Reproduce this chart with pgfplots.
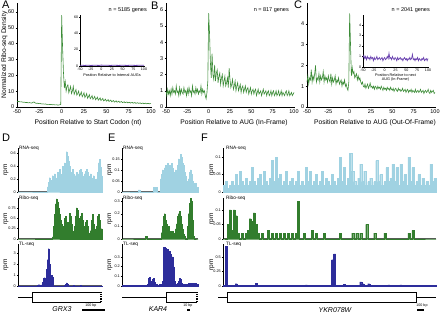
\documentclass[border=0pt]{standalone}
\usepackage{pgfplots}
\pgfplotsset{compat=1.18}
\usepackage{fontspec}
\setmainfont{Liberation Sans}
\definecolor{lgreen}{RGB}{60,140,55}
\definecolor{rgreen}{RGB}{50,125,45}
\definecolor{rblue}{RGB}{160,210,226}
\definecolor{tblue}{RGB}{45,45,155}
\definecolor{ipurple}{RGB}{105,65,175}
\definecolor{axgray}{RGB}{90,90,90}
\pgfplotsset{
  top/.style={scale only axis, anchor=south west, axis x line*=bottom, axis y line*=left,
    axis line style={-, line width=0.5pt}, xmin=-50, xmax=100, ymin=0,
    xtick={-50,-25,0,25,50,75,100}, xticklabels={-50,-25,0,25,50,75,100},
    tick align=outside, major tick length=1.5pt, tick style={black, line width=0.4pt},
    tick label style={font=\fontsize{5.5}{6}\selectfont, inner sep=1pt},
    clip=false, height=104pt},
  inset/.style={scale only axis, anchor=south west, axis x line*=bottom, axis y line*=left,
    axis line style={-, line width=0.4pt}, xmin=-50, xmax=100, ymin=0,
    xtick={-50,-25,0,25,50,75,100}, xticklabels={-50,-25,0,25,50,75,100},
    tick align=outside, major tick length=1pt, tick style={black, line width=0.3pt},
    tick label style={font=\fontsize{3.6}{4}\selectfont, inner sep=0.6pt},
    clip=false},
  bot/.style={scale only axis, anchor=south west, axis x line*=bottom, axis y line*=left,
    axis line style={-}, y axis line style={line width=0.4pt},
    x axis line style={axgray, line width=1pt}, xtick=\empty, ymin=0,
    tick align=outside, major tick length=1.2pt, tick style={black, line width=0.3pt},
    tick label style={font=\fontsize{3.8}{4}\selectfont, inner sep=0.8pt},
    clip=false},
}
\tikzset{lab/.style={font=\fontsize{4.8}{5}\selectfont, anchor=north west, inner sep=0pt}}
\newcommand{\xl}{\fontsize{6.7}{7}\selectfont}
\begin{document}
\begin{tikzpicture}
\useasboundingbox (0,0) rectangle (440pt,313pt);
% ---------------- A ----------------
\begin{axis}[top, at={(17pt,206pt)}, width=134pt, ymax=65.7,
  ytick={0,10,20,30,40,50,60}, yticklabels={0,10,20,30,40,50,60}]
\addplot[lgreen, line width=0.6pt] coordinates {(-50,3.6)(-49,3.4)(-48,3.5)(-47,3.3)(-46,3.2)(-45,3.3)(-44,3.1)(-43,3.0)(-42,3.1)(-41,2.9)(-40,2.8)(-39,2.9)(-38,2.7)(-37,2.6)(-36,2.8)(-35,2.6)(-34,2.5)(-33,2.6)(-32,3.0)(-31,3.2)(-30,2.7)(-29,2.4)(-28,2.3)(-27,2.4)(-26,2.2)(-25,2.1)(-24,2.2)(-23,2.0)(-22,1.9)(-21,2.0)(-20,1.9)(-19,1.8)(-18,1.9)(-17,1.7)(-16,1.6)(-15,1.7)(-14,1.6)(-13,1.5)(-12,1.6)(-11,1.5)(-10,1.4)(-9,1.5)(-8,1.4)(-7,1.3)(-6,1.4)(-5,1.3)(-4,1.2)(-3,1.3)(-2,1.4)(-1,1.6)(0,58)(1,38)(2,22)(3,12)(4,16)(5,10)(6,13)(7,14)(8,9)(9,11)(10,13)(11,8.5)(12,10)(13,13)(14,8)(15,9.5)(16,11)(17,7.5)(18,8.5)(19,10)(20,7)(21,8)(22,9.5)(23,6.5)(24,7.5)(25,9)(26,6)(27,7)(28,8.5)(29,5.5)(30,6.5)(31,7.8)(32,5.2)(33,6)(34,7.2)(35,4.9)(36,5.6)(37,6.7)(38,4.6)(39,5.2)(40,6.2)(41,4.3)(42,4.9)(43,5.8)(44,4.1)(45,4.6)(46,5.4)(47,3.9)(48,4.3)(49,5.0)(50,3.7)(51,4.1)(52,4.7)(53,3.5)(54,3.9)(55,4.4)(56,3.3)(57,3.7)(58,4.1)(59,3.1)(60,3.5)(61,3.9)(62,3.0)(63,3.3)(64,3.7)(65,2.9)(66,3.2)(67,3.5)(68,2.8)(69,3.0)(70,3.3)(71,2.7)(72,2.9)(73,3.2)(74,2.6)(75,2.8)(76,3.0)(77,2.5)(78,2.7)(79,2.9)(80,2.4)(81,2.6)(82,2.8)(83,2.3)(84,2.5)(85,2.7)(86,2.3)(87,2.4)(88,2.6)(89,2.2)(90,2.3)(91,2.5)(92,2.1)(93,2.3)(94,2.4)(95,2.0)(96,2.2)(97,2.3)(98,2.0)(99,2.1)(100,2.2)};
\node[anchor=north east, font=\fontsize{5.5}{6}\selectfont, inner sep=0pt, xshift=-4pt, yshift=-4pt] at (rel axis cs:1,1) {n = 5185 genes};
\node[font=\xl, yshift=-16pt, xshift=4pt] at (rel axis cs:0.5,0) {Position Relative to Start Codon (nt)};
\end{axis}
\begin{axis}[inset, at={(80pt,247pt)}, width=64pt, height=51pt, ymax=62.5,
  ytick={0,20,40,60}, yticklabels={0,20,40,60}]
\addplot[ipurple, line width=0.8pt] coordinates {(-50,0.8)(-45,0.9)(-40,0.7)(-35,0.8)(-30,0.9)(-25,0.7)(-20,0.8)(-15,0.9)(-10,0.8)(-5,0.7)(0,1.1)(5,0.9)(10,0.8)(15,0.9)(20,0.7)(25,0.8)(30,0.9)(35,0.8)(40,0.7)(45,0.8)(50,0.9)(55,0.8)(60,0.7)(65,0.8)(70,0.9)(75,0.8)(80,0.7)(85,0.8)(90,0.9)(95,0.8)(100,0.8)};
\node[font=\fontsize{3.8}{4}\selectfont, yshift=-9pt] at (rel axis cs:0.5,0) {Position Relative to Internal AUGs};
\end{axis}
% ---------------- B ----------------
\begin{axis}[top, at={(166pt,206pt)}, width=128pt, ymax=6.43,
  ytick={0,1,2,3,4,5,6}, yticklabels={0,1,2,3,4,5,6}]
\addplot[lgreen, line width=0.6pt] coordinates {(-50,1.0)(-49,0.7)(-48,1.1)(-47,0.8)(-46,1.0)(-45,0.7)(-44,1.1)(-43,0.8)(-42,1.2)(-41,0.9)(-40,1.0)(-39,0.8)(-38,1.3)(-37,0.9)(-36,1.0)(-35,0.7)(-34,1.2)(-33,0.8)(-32,1.1)(-31,0.9)(-30,0.8)(-29,1.2)(-28,0.9)(-27,1.0)(-26,0.7)(-25,1.1)(-24,0.8)(-23,1.2)(-22,0.9)(-21,1.0)(-20,0.7)(-19,1.3)(-18,0.9)(-17,1.0)(-16,0.8)(-15,1.2)(-14,0.9)(-13,1.1)(-12,0.8)(-11,1.0)(-10,0.9)(-9,1.3)(-8,0.8)(-7,1.1)(-6,0.9)(-5,1.0)(-4,0.7)(-3,0.5)(-2,0.9)(-1,1.6)(0,5.8)(1,4.6)(2,2.8)(3,1.8)(4,3.3)(5,2.0)(6,1.7)(7,2.6)(8,1.6)(9,2.1)(10,2.3)(11,1.5)(12,1.9)(13,2.1)(14,1.4)(15,1.8)(16,2.0)(17,1.3)(18,1.6)(19,1.9)(20,1.3)(21,1.5)(22,1.8)(23,1.2)(24,2.4)(25,1.7)(26,1.2)(27,1.4)(28,1.7)(29,1.1)(30,1.3)(31,1.6)(32,1.0)(33,1.3)(34,1.5)(35,1.0)(36,1.2)(37,1.4)(38,0.9)(39,1.2)(40,1.3)(41,0.9)(42,1.1)(43,1.3)(44,0.9)(45,1.1)(46,1.2)(47,0.8)(48,1.0)(49,1.2)(50,0.8)(51,1.0)(52,1.1)(53,0.8)(54,1.0)(55,1.1)(56,0.7)(57,0.9)(58,1.1)(59,0.8)(60,0.9)(61,1.0)(62,0.7)(63,0.9)(64,1.1)(65,0.8)(66,0.9)(67,1.0)(68,0.7)(69,0.9)(70,1.0)(71,0.7)(72,0.8)(73,1.0)(74,0.7)(75,0.9)(76,1.0)(77,0.7)(78,0.8)(79,1.0)(80,0.7)(81,0.8)(82,1.0)(83,0.7)(84,0.8)(85,1.0)(86,0.7)(87,0.9)(88,0.8)(89,0.7)(90,0.9)(91,1.0)(92,0.7)(93,0.8)(94,1.0)(95,0.7)(96,0.8)(97,0.9)(98,0.7)(99,0.8)(100,0.9)};
\node[anchor=north east, font=\fontsize{5.5}{6}\selectfont, inner sep=0pt, xshift=-5pt, yshift=-4pt] at (rel axis cs:1,1) {n = 817 genes};
\node[font=\xl, yshift=-16pt, xshift=4pt] at (rel axis cs:0.5,0) {Position Relative to AUG (In-Frame)};
\end{axis}
% ---------------- C ----------------
\begin{axis}[top, at={(307pt,206pt)}, width=128pt, ymax=5.0,
  ytick={0,1,2,3,4}, yticklabels={0,1,2,3,4}]
\addplot[lgreen, line width=0.6pt] coordinates {(-50,1.2)(-49,1.5)(-48,1.1)(-47,1.4)(-46,1.3)(-45,1.8)(-44,1.2)(-43,1.5)(-42,1.3)(-41,1.6)(-40,2.0)(-39,1.2)(-38,1.4)(-37,1.3)(-36,1.6)(-35,1.2)(-34,1.5)(-33,1.3)(-32,1.4)(-31,1.7)(-30,1.2)(-29,1.5)(-28,1.3)(-27,1.4)(-26,1.2)(-25,1.5)(-24,1.3)(-23,1.2)(-22,1.6)(-21,1.1)(-20,1.4)(-19,1.2)(-18,1.3)(-17,1.5)(-16,1.1)(-15,1.3)(-14,1.2)(-13,1.4)(-12,1.1)(-11,1.2)(-10,1.3)(-9,1.0)(-8,1.2)(-7,1.1)(-6,1.3)(-5,1.0)(-4,1.1)(-3,0.9)(-2,0.8)(-1,1.2)(0,4.5)(1,3.0)(2,1.5)(3,1.9)(4,1.6)(5,1.7)(6,1.4)(7,1.5)(8,1.6)(9,1.3)(10,1.5)(11,1.3)(12,1.4)(13,1.2)(14,1.1)(15,1.2)(16,1.0)(17,0.95)(18,1.1)(19,0.9)(20,1.0)(21,1.1)(22,0.9)(23,1.0)(24,1.15)(25,0.95)(26,1.0)(27,0.9)(28,1.0)(29,0.85)(30,1.0)(31,0.95)(32,0.85)(33,1.0)(34,0.9)(35,0.95)(36,0.85)(37,1.0)(38,0.9)(39,0.8)(40,0.95)(41,0.85)(42,0.9)(43,0.8)(44,0.95)(45,0.85)(46,0.9)(47,0.8)(48,0.95)(49,0.85)(50,0.8)(51,0.9)(52,0.75)(53,0.85)(54,0.9)(55,0.8)(56,0.75)(57,0.9)(58,0.8)(59,0.85)(60,0.75)(61,0.8)(62,0.9)(63,0.75)(64,0.8)(65,0.85)(66,0.7)(67,0.8)(68,0.85)(69,0.7)(70,0.8)(71,0.75)(72,0.85)(73,0.7)(74,0.8)(75,0.75)(76,0.7)(77,0.85)(78,0.7)(79,0.75)(80,0.8)(81,0.7)(82,0.75)(83,0.85)(84,0.7)(85,0.75)(86,0.8)(87,0.65)(88,0.75)(89,0.8)(90,0.7)(91,0.75)(92,0.85)(93,0.7)(94,0.65)(95,0.8)(96,0.7)(97,0.75)(98,0.8)(99,0.65)(100,0.7)};
\node[anchor=north east, font=\fontsize{5.5}{6}\selectfont, inner sep=0pt, xshift=-5pt, yshift=-4pt] at (rel axis cs:1,1) {n = 2041 genes};
\node[font=\xl, yshift=-16pt, xshift=4pt] at (rel axis cs:0.5,0) {Position Relative to AUG (Out-Of-Frame)};
\end{axis}
\begin{axis}[inset, at={(363pt,246pt)}, width=65pt, height=52pt, ymax=4.95,
  ytick={0,1,2,3,4}, yticklabels={0,1,2,3,4}]
\addplot[ipurple, line width=0.7pt] coordinates {(-50,0.9)(-48,1.1)(-46,0.8)(-44,1.0)(-42,0.7)(-40,1.0)(-38,0.8)(-36,0.9)(-34,0.7)(-32,1.0)(-30,0.8)(-28,0.9)(-26,0.6)(-24,0.9)(-22,0.7)(-20,0.8)(-18,1.0)(-16,0.7)(-14,0.8)(-12,0.9)(-10,0.7)(-8,0.8)(-6,0.9)(-4,0.6)(-2,0.8)(0,0.9)(2,0.7)(4,0.8)(6,1.0)(8,0.8)(10,1.3)(12,0.8)(14,0.9)(16,0.7)(18,1.0)(20,0.8)(22,0.7)(24,0.9)(26,0.8)(28,0.6)(30,0.9)(32,0.7)(34,0.8)(36,0.9)(38,0.7)(40,0.8)(42,0.6)(44,0.8)(46,0.9)(48,0.7)(50,0.8)(52,0.6)(54,0.8)(56,0.7)(58,0.9)(60,0.7)(62,0.8)(64,1.2)(66,0.7)(68,0.8)(70,0.6)(72,0.8)(74,0.7)(76,0.9)(78,0.6)(80,0.8)(82,0.7)(84,0.6)(86,0.8)(88,0.7)(90,0.9)(92,0.6)(94,0.7)(96,0.8)(98,0.6)(100,0.8)};
\node[font=\fontsize{3.8}{4}\selectfont, yshift=-11pt, align=center] at (rel axis cs:0.5,0) {Position Relative to next\\AUG (In-Frame)};
\end{axis}
% ---------------- D ----------------
\begin{axis}[bot, at={(18pt,121pt)}, width=84pt, height=44pt, xmin=0, xmax=84, ymax=0.677,
  ytick={0,0.2,0.4,0.6}, yticklabels={0,0.2,0.4,0.6}]
\addplot[const plot, fill=rblue, draw=rblue, line width=0.2pt] coordinates {(0,0)(29,0.08)(30,0.15)(31,0.22)(32,0.12)(33,0.18)(34,0.25)(35,0.2)(36,0.28)(37,0.22)(38,0.18)(39,0.3)(40,0.25)(41,0.35)(42,0.28)(43,0.22)(44,0.4)(45,0.35)(46,0.45)(47,0.38)(48,0.62)(49,0.55)(50,0.48)(51,0.4)(52,0.3)(53,0.25)(54,0.35)(55,0.28)(56,0.2)(57,0.25)(58,0.3)(59,0.22)(60,0.28)(61,0.33)(62,0.35)(63,0.3)(64,0.25)(65,0.2)(66,0.28)(67,0.32)(68,0.35)(69,0.3)(70,0.25)(71,0.2)(72,0.28)(73,0.22)(74,0.18)(75,0.25)(76,0.2)(77,0.15)(78,0.2)(79,0.3)(80,0.45)(81,0.5)(82,0.38)(83,0.25)(84,0.25)} \closedcycle;
\node[lab, xshift=1pt, yshift=2pt] at (rel axis cs:0,1) {RNA-seq};
\end{axis}
\begin{axis}[bot, at={(18pt,74pt)}, width=84pt, height=41pt, xmin=0, xmax=84, ymax=0.99,
  ytick={0,0.25,0.5,0.75}, yticklabels={0,0.25,0.5,0.75}]
\addplot[const plot, fill=rgreen, draw=rgreen, line width=0.2pt] coordinates {(0,0)(34,0.05)(35,0.3)(36,0.6)(37,0.85)(38,0.97)(39,0.9)(40,0.75)(41,0.6)(42,0.45)(43,0.35)(44,0.2)(45,0.3)(46,0.5)(47,0.55)(48,0.4)(49,0.25)(50,0.4)(51,0.62)(52,0.55)(53,0.35)(54,0.2)(55,0.15)(56,0.3)(57,0.55)(58,0.75)(59,0.7)(60,0.5)(61,0.35)(62,0.55)(63,0.62)(64,0.45)(65,0.3)(66,0.2)(67,0.4)(68,0.45)(69,0.3)(70,0.15)(71,0.1)(72,0.2)(73,0.45)(74,0.6)(75,0.35)(76,0.25)(77,0.15)(78,0.3)(79,0.55)(80,0.6)(81,0.45)(82,0.2)(83,0.25)(84,0.25)} \closedcycle;
\node[lab, xshift=1pt, yshift=2pt] at (rel axis cs:0,1) {Ribo-seq};
\end{axis}
\begin{axis}[bot, at={(18pt,27pt)}, width=84pt, height=42pt, xmin=0, xmax=84, ymax=3.82,
  ytick={0,1,2,3}, yticklabels={0,1,2,3}]
\addplot[const plot, fill=tblue, draw=tblue, line width=0.2pt] coordinates {(0,0.01)(19,0.08)(20,0.12)(22,0.06)(23,0.1)(24,0.35)(25,0.7)(26,0.75)(27,0.7)(28,1.5)(29,2.4)(30,3.4)(31,2.0)(32,1.0)(33,0.95)(34,0.8)(35,0.01)(46,0.06)(47,0.18)(48,0.28)(49,0.15)(50,0.02)(55,0.04)(56,0.02)(62,0.04)(63,0.01)(70,0.02)(84,0.02)} \closedcycle;
\node[lab, xshift=1pt, yshift=2pt] at (rel axis cs:0,1) {TL-seq};
\end{axis}
% ---------------- E ----------------
\begin{axis}[bot, at={(122pt,121pt)}, width=76pt, height=44pt, xmin=0, xmax=76, ymax=0.2,
  ytick={0,0.05,0.1,0.15}, yticklabels={0,0.05,0.1,0.15}]
\addplot[const plot, fill=rblue, draw=rblue, line width=0.2pt] coordinates {(0,0)(16,0.01)(18,0)(31,0.02)(35,0)(38,0.06)(39,0.08)(40,0.1)(41,0.09)(42,0.11)(43,0.12)(44,0.1)(45,0.13)(46,0.11)(47,0.12)(48,0.1)(49,0.13)(50,0.11)(51,0.09)(52,0.08)(53,0.1)(54,0.08)(55,0.12)(56,0.15)(57,0.14)(58,0.17)(59,0.16)(60,0.13)(61,0.12)(62,0.09)(63,0.07)(64,0.05)(65,0.04)(66,0.06)(67,0.09)(68,0.1)(69,0.08)(70,0.05)(71,0.04)(72,0.03)(73,0.04)(74,0.02)(76,0.02)} \closedcycle;
\node[lab, xshift=1pt, yshift=2pt] at (rel axis cs:0,1) {RNA-seq};
\end{axis}
\begin{axis}[bot, at={(122pt,74pt)}, width=76pt, height=41pt, xmin=0, xmax=76, ymax=0.324,
  ytick={0,0.1,0.2,0.3}, yticklabels={0,0.1,0.2,0.3}]
\addplot[const plot, fill=rgreen, draw=rgreen, line width=0.2pt] coordinates {(0,0)(23,0.02)(25,0)(39,0.05)(40,0.1)(41,0.18)(42,0.2)(43,0.15)(44,0.12)(45,0.08)(46,0.1)(47,0.06)(48,0.03)(49,0.06)(50,0.06)(51,0.05)(52,0.03)(53,0.08)(54,0.12)(55,0.18)(56,0.2)(57,0.22)(58,0.18)(59,0.12)(60,0.08)(61,0.04)(62,0.02)(63,0)(65,0.1)(66,0.2)(67,0.28)(68,0.32)(69,0.3)(70,0.15)(71,0.02)(72,0)(76,0)} \closedcycle;
\node[lab, xshift=1pt, yshift=2pt] at (rel axis cs:0,1) {Ribo-seq};
\end{axis}
\begin{axis}[bot, at={(122pt,27pt)}, width=76pt, height=42pt, xmin=0, xmax=76, ymax=0.434,
  ytick={0,0.1,0.2,0.3}, yticklabels={0,0.1,0.2,0.3}]
\addplot[const plot, fill=tblue, draw=tblue, line width=0.2pt] coordinates {(0,0.005)(25,0.02)(26,0.08)(27,0.09)(28,0.05)(29,0.02)(30,0.07)(31,0.08)(32,0.04)(33,0.02)(35,0.01)(37,0.02)(40,0.05)(41,0.4)(42,0.4)(43,0.39)(44,0.38)(45,0.38)(46,0.35)(47,0.36)(48,0.33)(49,0.3)(50,0.3)(51,0.2)(52,0.05)(53,0.02)(55,0.03)(56,0.05)(57,0.08)(58,0.07)(59,0.03)(60,0.02)(61,0.01)(62,0.02)(64,0.01)(65,0.02)(66,0.03)(68,0.02)(69,0.03)(72,0.02)(73,0.03)(74,0.02)(76,0.02)} \closedcycle;
\node[lab, xshift=1pt, yshift=2pt] at (rel axis cs:0,1) {TL-seq};
\end{axis}
% ---------------- F ----------------
\begin{axis}[bot, at={(223pt,121pt)}, width=213pt, height=44pt, xmin=0, xmax=106, ymax=0.126,
  ytick={0,0.05,0.1}, yticklabels={0,0.05,0.1}]
\addplot[const plot, fill=rblue, draw=rblue, line width=0.2pt] coordinates {(0,0.02)(1,0.03)(2,0.01)(3,0.02)(4,0.03)(5,0.02)(6,0.05)(7,0.02)(8,0.06)(9,0.03)(10,0.02)(11,0.04)(12,0.02)(13,0.03)(14,0.07)(15,0.03)(16,0.02)(17,0.04)(18,0.05)(19,0.02)(20,0.06)(21,0.03)(22,0.02)(23,0.04)(24,0.09)(25,0.03)(26,0.1)(27,0.04)(28,0.05)(29,0.02)(30,0.03)(31,0.06)(32,0.02)(33,0.03)(34,0.04)(35,0.02)(36,0.03)(37,0.06)(38,0.02)(39,0.03)(40,0.02)(41,0.07)(42,0.03)(43,0.06)(44,0.02)(45,0.03)(46,0.05)(47,0.02)(48,0.03)(49,0.06)(50,0.02)(51,0.04)(52,0.03)(53,0.02)(54,0.05)(55,0.03)(56,0.02)(57,0.04)(58,0.1)(59,0.03)(60,0.07)(61,0.02)(62,0.04)(63,0.11)(64,0.06)(65,0.03)(66,0.02)(67,0.04)(68,0.08)(69,0.03)(70,0.06)(71,0.02)(72,0.03)(73,0.04)(74,0.02)(75,0.03)(76,0.09)(77,0.03)(78,0.05)(79,0.02)(80,0.03)(81,0.07)(82,0.03)(83,0.04)(84,0.08)(85,0.03)(86,0.07)(87,0.02)(88,0.08)(89,0.03)(90,0.05)(91,0.02)(92,0.1)(93,0.03)(94,0.07)(95,0.02)(96,0.03)(97,0.05)(98,0.02)(99,0.04)(100,0.02)(101,0.03)(102,0.02)(103,0.08)(104,0.03)(105,0.04)(106,0.04)} \closedcycle;
\node[lab, xshift=3pt, yshift=2pt] at (rel axis cs:0,1) {RNA-seq};
\end{axis}
\begin{axis}[bot, at={(223pt,74pt)}, width=213pt, height=41pt, xmin=0, xmax=106, ymax=0.141,
  ytick={0,0.05,0.1}, yticklabels={0,0.05,0.1}]
\addplot[const plot, fill=rgreen, draw=rgreen, line width=0.2pt] coordinates {(0,0)(2,0.05)(3,0.1)(4,0.03)(5,0.1)(6,0.08)(7,0.02)(8,0)(9,0.02)(10,0)(11,0.02)(12,0.03)(13,0.07)(14,0.06)(15,0.09)(16,0.05)(17,0.02)(18,0)(19,0.02)(20,0)(22,0.03)(23,0)(24,0.02)(25,0)(26,0.02)(27,0)(28,0.02)(29,0)(30,0.02)(31,0)(32,0.02)(33,0)(34,0.02)(35,0)(36,0.02)(37,0.13)(38,0)(40,0.02)(41,0)(44,0.03)(45,0)(46,0.02)(47,0)(50,0.02)(51,0)(58,0.02)(59,0)(64,0.02)(65,0)(66,0.02)(67,0)(68,0.02)(69,0)(71,0.05)(72,0)(75,0.02)(76,0)(80,0.02)(81,0)(92,0.02)(93,0)(94,0.03)(95,0)(106,0)} \closedcycle;
\node[lab, xshift=3pt, yshift=2pt] at (rel axis cs:0,1) {Ribo-seq};
\end{axis}
\begin{axis}[bot, at={(223pt,27pt)}, width=213pt, height=42pt, xmin=0, xmax=106, ymax=0.72,
  ytick={0,0.25,0.5}, yticklabels={0,0.25,0.5}]
\addplot[const plot, fill=tblue, draw=tblue, line width=0.2pt] coordinates {(0,0.01)(1,0.68)(2,0.01)(6,0.04)(7,0.01)(16,0.05)(17,0.01)(41,0.02)(42,0.01)(54,0.45)(55,0.55)(56,0.01)(60,0.03)(61,0.01)(68,0.07)(69,0.04)(70,0.01)(72,0.04)(73,0.01)(82,0.02)(83,0.01)(88,0.02)(89,0.01)(106,0.01)} \closedcycle;
\node[lab, xshift=3pt, yshift=2pt] at (rel axis cs:0,1) {TL-seq};
\end{axis}
% ---------------- gene models ----------------
\draw[line width=0.5pt] (18pt,16pt) -- (32pt,16pt);
\draw[line width=0.5pt, fill=white] (101pt,11pt) -- (32pt,11pt) -- (32pt,21pt) -- (101pt,21pt);
\draw[line width=1.3pt, dash pattern=on 1pt off 0.7pt] (101pt,11pt) -- (101pt,21pt);
\draw[line width=0.5pt] (122pt,16pt) -- (166pt,16pt);
\draw[line width=0.5pt, fill=white] (197pt,11pt) -- (166pt,11pt) -- (166pt,21pt) -- (197pt,21pt);
\draw[line width=1.3pt, dash pattern=on 1pt off 0.7pt] (197pt,11pt) -- (197pt,21pt);
\draw[line width=0.5pt] (218pt,16pt) -- (436pt,16pt);
\draw[line width=0.5pt, fill=white] (227pt,11pt) rectangle (416pt,21pt);
\node[font=\fontsize{7}{8}\selectfont\itshape] at (62pt,4pt) {GRX3};
\node[font=\fontsize{7}{8}\selectfont\itshape] at (158pt,4pt) {KAR4};
\node[font=\fontsize{7}{8}\selectfont\itshape] at (335pt,3pt) {YKR078W};
% scale bars
\node[font=\fontsize{3.6}{4}\selectfont, inner sep=0pt] at (91pt,7pt) {100 bp};
\draw[line width=1.6pt] (82pt,3pt) -- (105pt,3pt);
\node[font=\fontsize{3.6}{4}\selectfont, inner sep=0pt] at (188pt,7pt) {10 bp};
\draw[line width=1.6pt] (187pt,3pt) -- (190pt,3pt);
\node[font=\fontsize{3.6}{4}\selectfont, inner sep=0pt] at (422pt,7pt) {100 bp};
\draw[line width=1.6pt] (417pt,3pt) -- (424pt,3pt);
% rpm labels
\foreach \xx in {6,110,212}{
  \node[rotate=90, font=\fontsize{6.5}{7}\selectfont] at (\xx pt,143pt) {rpm};
  \node[rotate=90, font=\fontsize{6.5}{7}\selectfont] at (\xx pt,94pt) {rpm};
  \node[rotate=90, font=\fontsize{6.5}{7}\selectfont] at (\xx pt,48pt) {rpm};
}
% y label A
\node[rotate=90, font=\xl] at (4.5pt,258pt) {Normalized Ribo-seq Density};
% panel letters
\foreach \p/\xx/\yy in {A/2/312,B/151/311,C/294/312,D/2/179,E/108/179,F/201/179}{
  \node[anchor=north west, inner sep=0pt, font=\fontsize{11}{11}\selectfont] at (\xx pt,\yy pt) {\p};
}
\end{tikzpicture}
\end{document}
